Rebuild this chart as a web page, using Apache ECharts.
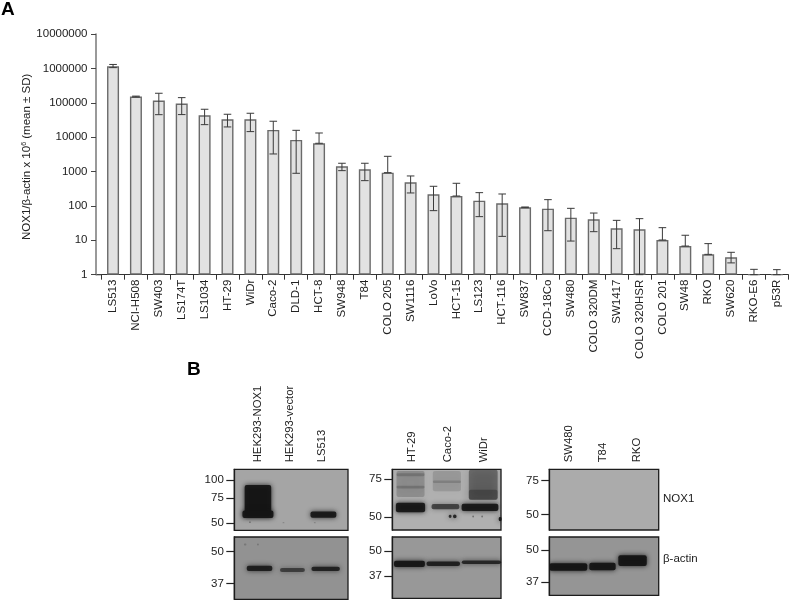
<!DOCTYPE html>
<html><head><meta charset="utf-8">
<style>html,body{margin:0;padding:0;background:#fff}#c{width:790px;height:601px}</style>
<script src="https://cdn.jsdelivr.net/npm/echarts@6/dist/echarts.min.js"></script>
</head><body><div id="c"></div>
<script>
const FONT = '"Liberation Sans", Arial, sans-serif';
const cellLines = ['LS513','NCI-H508','SW403','LS174T','LS1034','HT-29','WiDr','Caco-2','DLD-1','HCT-8','SW948','T84','COLO 205','SW1116','LoVo','HCT-15','LS123','HCT-116','SW837','CCD-18Co','SW480','COLO 320DM','SW1417','COLO 320HSR','COLO 201','SW48','RKO','SW620','RKO-E6','p53R'];
const nox1Mean = [1150000,151000,116000,94600,43300,33100,33100,16200,8290,6630,1420,1160,929,486,217,194,142,119,91,83,45.6,40.8,22.3,20.8,10.2,6.8,3.9,3.2,1,1];
const nox1Upper = [1300000,156000,189000,141000,64700,46300,49500,29000,15800,13200,1740,1740,2770,743,372,455,243,222,93,152,85,62,38,42.6,23.3,14,8,4.47,1.43,1.4];
const nox1Lower = [1050000,147000,45000,45300,23100,19800,14500,3240,889,6630,1060,543,929,238,72.8,194,48.7,13,89,19,9.5,17.8,5.7,1,10.2,6.8,3.9,2.2,1,1];

const p1Lanes = ['HEK293-NOX1','HEK293-vector','LS513'];
const p2Lanes = ['HT-29','Caco-2','WiDr'];
const p3Lanes = ['SW480','T84','RKO'];
// band rows: lane, kDa top, kDa bottom, width in lanes, darkness
const p1Nox = [[1,92.6,56,.83,.92],[1,61,54,.97,.94],[3.05,60,54.3,.81,.9],[.75,51,50,.06,.4],[2.78,50.6,49.6,.06,.2],[1.8,50.6,49.6,.06,.2]];
const p1Actin = [[1.05,43.8,41.7,.8,.85],[2.08,42.9,41.3,.78,.6],[3.12,43.4,41.7,.89,.82],[.6,54,53,.08,.2],[1,54,53,.05,.25]];
const p2Nox = [[.95,82,62,.78,.2],[.95,80,77.5,.78,.2],[.95,70,68,.78,.2],[.95,58.3,52.6,.81,.9],[1.96,82,66,.78,.14],[1.96,74,72,.78,.18],[1.92,57.5,54.3,.77,.62],[2.97,83,60,.8,.42],[2.97,67,60.5,.8,.3],[2.88,57.7,53.3,1.02,.9],[2.05,51.2,49.5,.08,.8],[2.18,51.4,49.3,.1,.85],[2.69,50.8,49.8,.05,.4],[2.94,50.8,49.8,.05,.4],[3.44,50,47.8,.08,.95]];
const p2Actin = [[.92,44.4,41.3,.86,.92],[1.86,44,41.8,.93,.85],[2.92,44.6,42.7,1.09,.8]];
const p3Nox = [];
const p3Actin = [[.98,44.3,41.2,1.12,.95],[1.99,44.5,41.4,.78,.92],[2.88,47.7,43.1,.84,.95]];

const blots = [
 {name:'p1n',lanes:p1Lanes,bands:p1Nox,grid:[234.3,469.3,113.7,61],xr:[.26,3.82],yr:[44.2,119.7],kda:[100,75,50],bg:'#a5a5a5'},
 {name:'p1a',lanes:null,bands:p1Actin,grid:[234.3,537,113.7,62.3],xr:[.26,3.82],yr:[31.9,57.4],kda:[50,37],bg:'#929292'},
 {name:'p2n',lanes:p2Lanes,bands:p2Nox,grid:[392.3,469.3,108.7,60.7],xr:[.444,3.464],yr:[43.5,83.5],kda:[75,50],bg:'#b0b0b0'},
 {name:'p2a',lanes:null,bands:p2Actin,grid:[392.3,537,108.7,61.3],xr:[.444,3.464],yr:[28.4,59],kda:[50,37],bg:'#989898'},
 {name:'p3n',lanes:p3Lanes,bands:p3Nox,grid:[549.3,469.3,109.4,60.7],xr:[.417,3.654],yr:[41.4,86],kda:[75,50],bg:'#ababab'},
 {name:'p3a',lanes:null,bands:p3Actin,grid:[549.3,537,109.4,58.3],xr:[.417,3.654],yr:[32.7,56.7],kda:[50,37],bg:'#959595'}
];

const grids=[{left:101.6,right:1.7,top:34,bottom:326.33}], xAxes=[{
  type:'category',data:cellLines,gridIndex:0,
  axisLine:{lineStyle:{color:'#333',width:1.2}},
  axisTick:{show:true,length:5,alignWithLabel:false,lineStyle:{color:'#333',width:1}},
  axisLabel:{rotate:90,interval:0,fontSize:11.5,color:'#222',fontFamily:FONT,margin:5}
}], yAxes=[{
  type:'log',logBase:10,min:1,max:10000000,gridIndex:0,offset:5.6,position:'left',
  name:'{a|NOX1/β-actin x 10}{s|6}{a| (mean ± SD)}',nameLocation:'middle',nameGap:63,nameRotate:90,nameMoveOverlap:false,
  nameTextStyle:{padding:[0,5,0,0],rich:{a:{fontSize:11.5,color:'#222',fontFamily:FONT},s:{fontSize:7,color:'#222',fontFamily:FONT,verticalAlign:'top',padding:[0,0,4,0]}}},
  axisLine:{show:true,lineStyle:{color:'#777',width:1.5}},
  axisTick:{show:true,length:5,lineStyle:{color:'#444',width:1}},
  minorTick:{show:false},minorSplitLine:{show:false},splitLine:{show:false},
  axisLabel:{fontSize:11.5,color:'#222',fontFamily:FONT,margin:8.5,formatter:v=>String(Math.round(v))}
}];
const series=[
 {type:'bar',xAxisIndex:0,yAxisIndex:0,data:nox1Mean,barWidth:12,silent:true,z:2,
  itemStyle:{color:'#e2e2e2',borderColor:'#6a6a6a',borderWidth:1.4}},
 {type:'custom',xAxisIndex:0,yAxisIndex:0,z:3,silent:true,
  data:cellLines.map((c,i)=>[i,nox1Lower[i],nox1Upper[i]]),
  encode:{x:0,y:[1,2]},
  renderItem(p,api){
    const hi=api.coord([api.value(0),api.value(2)]), lo=api.coord([api.value(0),api.value(1)]);
    const st={stroke:'#3a3a3a',lineWidth:1,fill:null}, w=3.8;
    return {type:'group',children:[
      {type:'line',shape:{x1:hi[0],y1:hi[1],x2:lo[0],y2:lo[1]},style:st},
      {type:'line',shape:{x1:hi[0]-w,y1:hi[1],x2:hi[0]+w,y2:hi[1]},style:st},
      {type:'line',shape:{x1:lo[0]-w,y1:lo[1],x2:lo[0]+w,y2:lo[1]},style:st}
    ]};
  }}
];
blots.forEach((b,i)=>{
  const k=i+1;
  grids.push({left:b.grid[0],top:b.grid[1],width:b.grid[2],height:b.grid[3],show:true,backgroundColor:b.bg,borderColor:'#1c1c1c',borderWidth:1.3});
  xAxes.push({type:'value',gridIndex:k,position:'top',min:b.xr[0],max:b.xr[1],splitLine:{show:false},
    axisLine:{show:false},axisTick:{show:false},
    axisLabel:b.lanes?{show:true,rotate:-90,margin:7,fontSize:11.3,color:'#222',fontFamily:FONT,
      customValues:[1,2,3],formatter:v=>b.lanes[Math.round(v)-1]}:{show:false}});
  yAxes.push({type:'log',logBase:10,gridIndex:k,min:b.yr[0],max:b.yr[1],splitLine:{show:false},minorTick:{show:false},
    axisLine:{show:true,onZero:false,lineStyle:{color:'#1c1c1c',width:1.3}},
    axisTick:{show:true,length:8,customValues:b.kda,lineStyle:{color:'#222',width:1.2}},
    axisLabel:{show:true,margin:10.5,fontSize:11.5,color:'#222',fontFamily:FONT,customValues:b.kda,formatter:v=>String(Math.round(v))}});
  series.push({type:'custom',xAxisIndex:k,yAxisIndex:k,silent:true,clip:true,z:2,data:b.bands,
    encode:{x:0,y:[1,2]},
    renderItem(p,api){
      const c=api.value(0), w=api.value(3), dark=api.value(4);
      const a=api.coord([c-w/2,api.value(1)]), d=api.coord([c+w/2,api.value(2)]);
      const col='rgba(20,20,20,'+dark+')';
      return {type:'rect',shape:{x:a[0],y:a[1],width:d[0]-a[0],height:d[1]-a[1],r:2},
        style:{fill:col,shadowBlur:dark<.5?9:5,shadowColor:col}};
    }});
});

const chart=echarts.init(document.getElementById('c'),null,{renderer:'canvas'});
chart.setOption({
  animation:false,backgroundColor:'#fff',
  grid:grids,xAxis:xAxes,yAxis:yAxes,series,
  graphic:[
    {type:'text',left:1,top:0,style:{text:'A',font:'bold 19px '+FONT,fill:'#000'}},
    {type:'text',left:187,top:360,style:{text:'B',font:'bold 19px '+FONT,fill:'#000'}},
    {type:'text',left:663,top:493,style:{text:'NOX1',font:'11.5px '+FONT,fill:'#222'}},
    {type:'text',left:663,top:553,style:{text:'β-actin',font:'11.5px '+FONT,fill:'#222'}},
    {type:'line',shape:{x1:96,y1:274.67,x2:101.6,y2:274.67},style:{stroke:'#333',lineWidth:1.2}}
  ]
});
</script></body></html>
